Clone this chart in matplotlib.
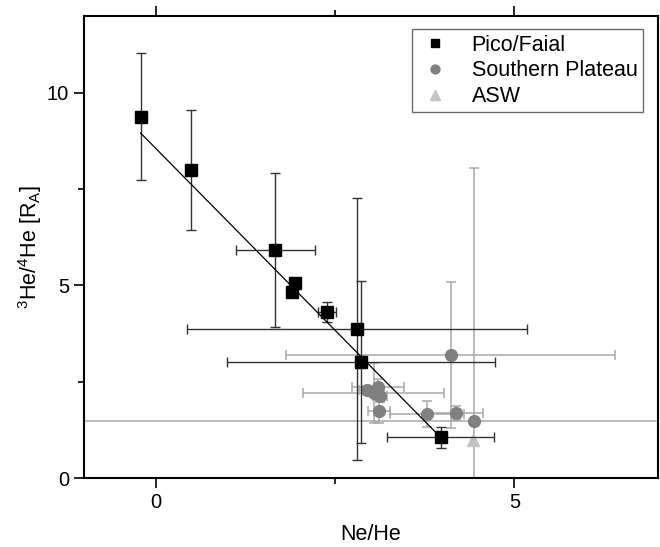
import matplotlib
matplotlib.use("Agg")
import matplotlib.pyplot as plt
from matplotlib.ticker import MultipleLocator

plt.rcParams['font.family'] = ['Liberation Sans', 'DejaVu Sans']
plt.rcParams['mathtext.fontset'] = 'custom'
plt.rcParams['mathtext.rm'] = 'Liberation Sans'
plt.rcParams['mathtext.default'] = 'regular'

# Pico/Faial samples
pico_x = [-0.21, 0.50, 1.67, 1.94, 1.90, 2.39, 2.81, 2.86, 3.97]
pico_y = [9.38, 8.00, 5.92, 5.07, 4.83, 4.31, 3.87, 3.01, 1.06]
pico_xerr = [0.0, 0.06, 0.55, 0.0, 0.0, 0.13, 2.37, 1.87, 0.74]
pico_yerr = [1.65, 1.55, 2.00, 0.0, 0.0, 0.25, 3.40, 2.10, 0.27]

# Southern Plateau samples
sp_x = [2.94, 3.10, 3.04, 3.13, 3.11, 3.78, 4.18, 4.43, 4.11]
sp_y = [2.29, 2.36, 2.20, 2.13, 1.74, 1.66, 1.69, 1.48, 3.19]
sp_xerr = [0.10, 0.36, 0.98, 0.10, 0.15, 0.52, 0.38, 10.0, 2.29]
sp_yerr = [0.10, 0.20, 0.78, 0.15, 0.30, 0.34, 0.18, 6.57, 1.90]

# air saturated water
asw_x = [4.42]
asw_y = [0.99]

# mixing line through the Pico/Faial data
fit_x = [-0.21, 3.97]
fit_y = [8.96, 1.06]

fig = plt.figure(figsize=(6.6, 5.47), dpi=100)
ax = fig.add_axes([0.127, 0.126, 0.870, 0.845])

sp_bars = ax.errorbar(sp_x, sp_y, xerr=sp_xerr, yerr=sp_yerr, fmt='o', color='#808080',
                      ecolor='#a8a8a8', elinewidth=1.1, capsize=3.5, capthick=1.1,
                      markersize=8.5, zorder=2)
pico_bars = ax.errorbar(pico_x, pico_y, xerr=pico_xerr, yerr=pico_yerr, fmt='s', color='black',
                        ecolor='#333333', elinewidth=1.0, capsize=3.5, capthick=1.0,
                        markersize=8.5, zorder=3)
asw_pts, = ax.plot(asw_x, asw_y, '^', color='#c4c4c4', markersize=9, zorder=2)
ax.plot(fit_x, fit_y, color='black', linewidth=0.9, zorder=4)

ax.set_xlim(-1, 7)
ax.set_ylim(0, 12)
ax.xaxis.set_major_locator(MultipleLocator(5))
ax.xaxis.set_minor_locator(MultipleLocator(2.5))
ax.yaxis.set_major_locator(MultipleLocator(5))
ax.yaxis.set_minor_locator(MultipleLocator(2.5))
ax.tick_params(which='both', direction='out', top=True, right=False,
               labelsize=14.5, width=1.2)
ax.tick_params(which='major', length=7)
ax.tick_params(which='minor', length=4)
for sp in ax.spines.values():
    sp.set_linewidth(1.5)

ax.set_xlabel('Ne/He', fontsize=15.5, labelpad=9)
ax.set_ylabel(r'$^{3}$He/$^{4}$He [R$_{A}$]', fontsize=15.5, labelpad=2)

leg = ax.legend([pico_bars[0], sp_bars[0], asw_pts],
                ['Pico/Faial', 'Southern Plateau', 'ASW'],
                loc='upper right', fontsize=15.5, frameon=True, fancybox=False,
                edgecolor='#444444', handletextpad=0.9, borderpad=0.25,
                labelspacing=0.22, markerscale=0.75, handlelength=1.6,
                borderaxespad=0.3, bbox_to_anchor=(0.985, 0.985))
leg.get_frame().set_linewidth(1.0)

fig.savefig('out.png', dpi=100)
